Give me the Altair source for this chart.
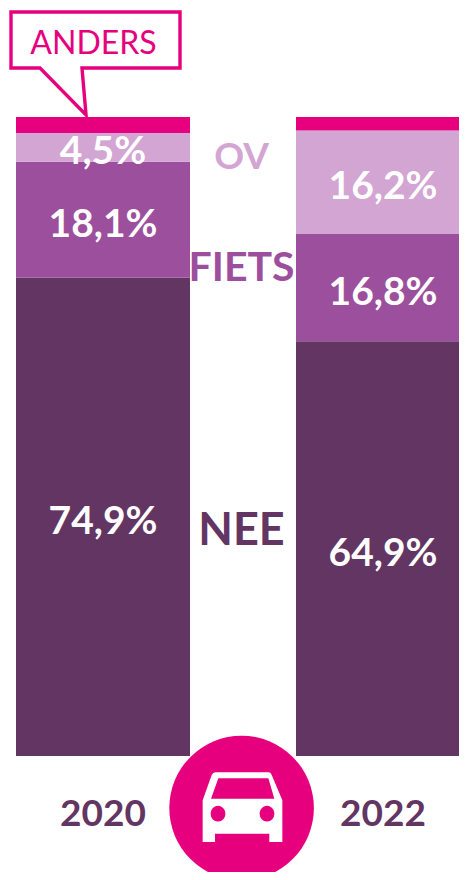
import altair as alt
import pandas as pd

years = ["2020", "2020", "2020", "2020", "2022", "2022", "2022", "2022"]
modes = ["NEE", "FIETS", "OV", "ANDERS", "NEE", "FIETS", "OV", "ANDERS"]
values = [74.9, 18.1, 4.5, 2.5, 64.9, 16.8, 16.2, 2.1]
labels = ["74,9%", "18,1%", "4,5%", "", "64,9%", "16,8%", "16,2%", ""]

mode_names = ["NEE", "FIETS", "OV", "ANDERS"]
mode_colors = ["#633563", "#9C4F9C", "#D3A5D3", "#E6007E"]
side_names = ["NEE", "FIETS", "OV"]
side_levels = [35.7, 76.8, 94.2]
year_names = ["2020", "2022"]
year_level = -9.2

FONT = "Lato"
PINK = "#E6007E"

rows = []
base = {"2020": 0.0, "2022": 0.0}
for yr, m, v, lab in zip(years, modes, values, labels):
    rows.append({"year": yr, "mode": m, "value": v, "label": lab,
                 "y0": base[yr], "y1": base[yr] + v, "mid": base[yr] + v / 2})
    base[yr] += v
df = pd.DataFrame(rows)
df_labels = df[df["label"] != ""]

x_scale = alt.Scale(domain=year_names, range=[8, 462], paddingInner=0.3786, paddingOuter=0)
y_scale = alt.Scale(domain=[0, 100], range=[748, 109], nice=False, zero=False)
color_scale = alt.Scale(domain=mode_names, range=mode_colors)
x_enc = alt.X("year:N", scale=x_scale, axis=None)

bars = alt.Chart(df).mark_bar(cornerRadius=0).encode(
    x=x_enc,
    y=alt.Y("y0:Q", scale=y_scale, axis=None),
    y2="y1:Q",
    color=alt.Color("mode:N", scale=color_scale, legend=None),
)

bar_text = alt.Chart(df_labels).mark_text(
    font=FONT, fontWeight="bold", fontSize=39, color="white", baseline="middle", dy=5
).encode(
    x=x_enc,
    y=alt.Y("mid:Q", scale=y_scale, axis=None),
    text="label:N",
)

side_df = pd.DataFrame({"name": side_names, "level": side_levels})
side_text = alt.Chart(side_df).mark_text(
    font=FONT, fontWeight="bold", baseline="middle", dy=3.5
).encode(
    x=alt.value(233.5),
    y=alt.Y("level:Q", scale=y_scale, axis=None),
    text="name:N",
    color=alt.Color("name:N", scale=color_scale, legend=None),
    size=alt.Size("name:N", legend=None,
                  scale=alt.Scale(domain=side_names, range=[45, 37, 43])),
)

year_df = pd.DataFrame({"year": year_names, "level": [year_level] * 2})
year_text = alt.Chart(year_df).mark_text(
    font=FONT, fontWeight="bold", fontSize=37, color="#633563", baseline="middle"
).encode(
    x=x_enc,
    y=alt.Y("level:Q", scale=y_scale, axis=None),
    text="year:N",
)

anchor = pd.DataFrame({"n": ["a"]})

disc = alt.Chart(anchor).mark_point(filled=True, opacity=1, color=PINK, size=20909).encode(
    x=alt.value(233.6), y=alt.value(800)
)

CAR = ("M-0.996,0.875 L-0.996,-0.167 L-0.77,-0.8 Q-0.74,-0.867 -0.68,-0.867 L0.66,-0.867 "
       "Q0.71,-0.867 0.73,-0.8 L0.996,-0.167 L0.996,0.875 L0.67,0.875 L0.67,0.667 "
       "L-0.6875,0.667 L-0.6875,0.875 Z "
       "M-0.604,-0.717 L-0.7875,-0.208 L0.796,-0.208 L0.646,-0.717 Z "
       "M-0.795,0.167 A0.183,0.183 0 1 0 -0.43,0.167 A0.183,0.183 0 1 0 -0.795,0.167 Z "
       "M0.43,0.167 A0.183,0.183 0 1 0 0.795,0.167 A0.183,0.183 0 1 0 0.43,0.167 Z")
car = alt.Chart(anchor).mark_point(
    filled=True, opacity=1, color="white", shape=CAR, size=6400
).encode(x=alt.value(234.5), y=alt.value(799))

BUBBLE = ("M-1,-0.609 L1,-0.609 L1,0.053 L-0.16,0.053 L-0.112,0.609 "
          "L-0.657,0.053 L-1,0.053 Z")
bubble = alt.Chart(anchor).mark_point(
    filled=True, opacity=1, fill="white", stroke=PINK, strokeWidth=3.4,
    strokeJoin="miter", shape=BUBBLE, size=28561
).encode(x=alt.value(87.5), y=alt.value(55.5))

bubble_text = alt.Chart(pd.DataFrame({"t": ["ANDERS"]})).mark_text(
    font=FONT, fontSize=32, color=PINK, baseline="middle"
).encode(x=alt.value(85.5), y=alt.value(35.5), text="t:N")

chart = alt.layer(
    bars, bar_text, side_text, year_text, disc, car, bubble, bubble_text
).resolve_scale(color="independent", size="independent").properties(
    width=451, height=864, padding=0, background="white",
    autosize=alt.AutoSizeParams(type="none")
).configure_view(stroke=None)

chart.save("out.html", embed_options={"renderer": "svg", "actions": False})
